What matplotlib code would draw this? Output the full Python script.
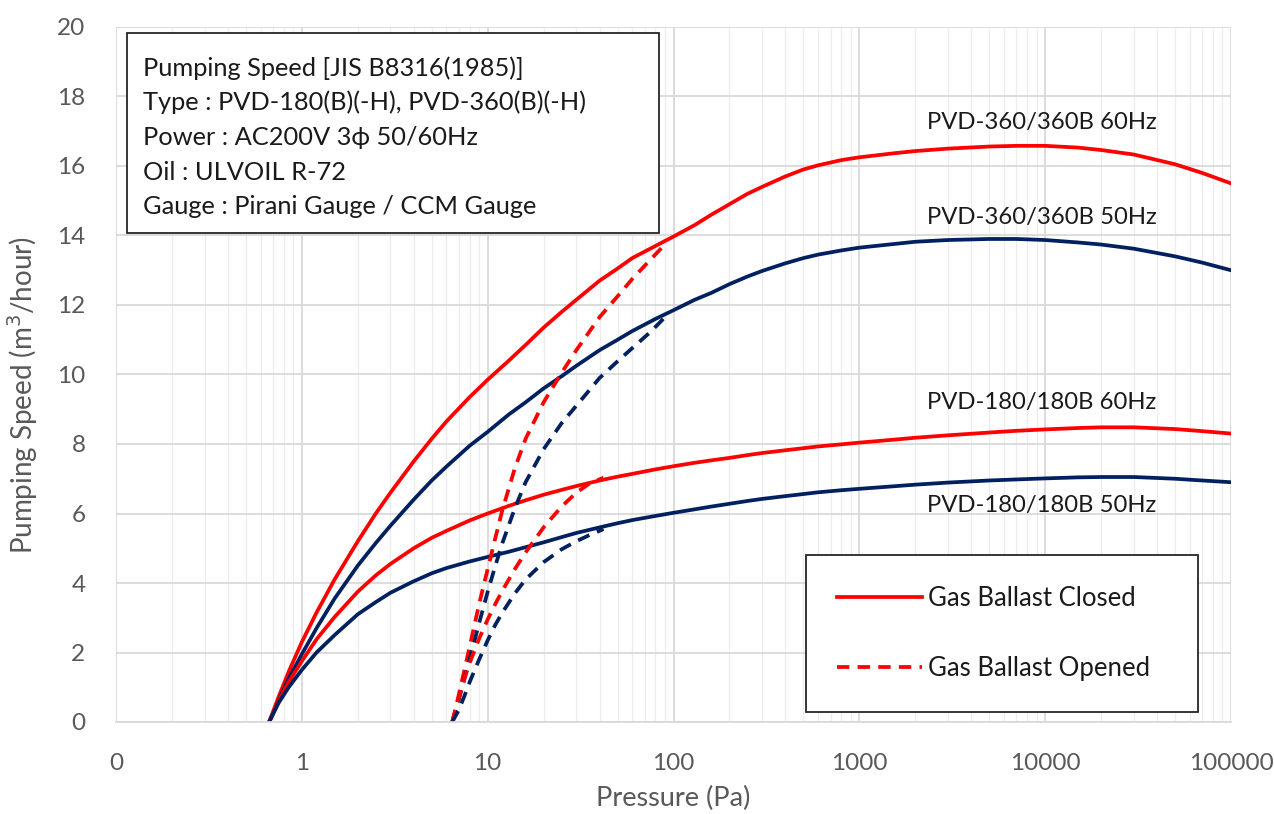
import matplotlib
matplotlib.use("Agg")
import matplotlib.pyplot as plt
from matplotlib.lines import Line2D
from matplotlib.patches import Rectangle
from matplotlib.ticker import FixedLocator, FixedFormatter, NullFormatter

plt.rcParams["font.family"] = ["Lato", "DejaVu Sans"]

RED = "#FF0000"
NAVY = "#002060"

# gas ballast closed (solid)
p_closed = [0.667, 0.75, 0.85, 1, 1.2, 1.5, 2, 2.5, 3, 4, 5, 6, 8, 10, 13, 16, 20,
            25, 30, 40, 50, 60, 80, 100, 130, 160, 200, 250, 300, 400, 500, 600,
            800, 1000, 1500, 2000, 3000, 5000, 7000, 10000, 15000, 20000, 30000,
            50000, 70000, 100000]
s360_60 = [0, 0.72, 1.45, 2.3, 3.15, 4.1, 5.2, 6.0, 6.6, 7.5, 8.15, 8.65, 9.35,
           9.85, 10.4, 10.85, 11.35, 11.8, 12.15, 12.7, 13.05, 13.35, 13.7, 13.97,
           14.3, 14.6, 14.9, 15.2, 15.4, 15.7, 15.9, 16.02, 16.17, 16.25, 16.36,
           16.43, 16.5, 16.56, 16.58, 16.58, 16.53, 16.46, 16.33, 16.05, 15.8, 15.5]
s360_50 = [0, 0.62, 1.25, 1.95, 2.7, 3.55, 4.5, 5.15, 5.65, 6.4, 6.95, 7.35, 7.95,
           8.35, 8.85, 9.2, 9.6, 9.95, 10.25, 10.7, 11.0, 11.25, 11.6, 11.85,
           12.15, 12.35, 12.6, 12.82, 12.98, 13.2, 13.35, 13.45, 13.57, 13.65,
           13.75, 13.82, 13.87, 13.9, 13.9, 13.87, 13.8, 13.74, 13.62, 13.4,
           13.22, 13.0]
s180_60 = [0, 0.6, 1.15, 1.75, 2.38, 3.02, 3.75, 4.22, 4.55, 5.0, 5.3, 5.5, 5.8,
           6.0, 6.22, 6.38, 6.54, 6.68, 6.79, 6.95, 7.06, 7.14, 7.27, 7.36, 7.46,
           7.53, 7.6, 7.68, 7.74, 7.82, 7.88, 7.93, 7.99, 8.04, 8.12, 8.18, 8.25,
           8.33, 8.38, 8.42, 8.46, 8.48, 8.48, 8.43, 8.37, 8.3]
s180_50 = [0, 0.55, 1.0, 1.5, 2.0, 2.5, 3.1, 3.45, 3.72, 4.05, 4.28, 4.43, 4.62,
           4.75, 4.9, 5.03, 5.17, 5.32, 5.44, 5.6, 5.72, 5.81, 5.93, 6.02, 6.12,
           6.2, 6.28, 6.36, 6.42, 6.5, 6.56, 6.61, 6.67, 6.71, 6.78, 6.83, 6.89,
           6.95, 6.98, 7.01, 7.04, 7.05, 7.05, 7.0, 6.95, 6.9]

# gas ballast opened (dashed)
p_open360 = [6.45, 7, 7.5, 8, 9, 10, 11, 12, 14, 16, 20, 25, 30, 40, 50, 60, 75, 92]
o360_60 = [0, 0.8, 1.5, 2.17, 3.4, 4.4, 5.3, 6.1, 7.3, 8.15, 9.2, 10.05, 10.7,
           11.65, 12.25, 12.75, 13.3, 13.8]
o360_50 = [0, 0.65, 1.25, 1.8, 2.85, 3.75, 4.5, 5.15, 6.15, 6.9, 7.85, 8.6, 9.1,
           9.9, 10.38, 10.76, 11.22, 11.7]
p_open180 = [6.45, 7, 7.5, 8, 9, 10, 11, 12, 14, 16, 20, 25, 30, 35, 42]
o180_60 = [0, 0.7, 1.25, 1.7, 2.4, 2.95, 3.4, 3.78, 4.4, 4.88, 5.6, 6.2, 6.6, 6.85, 7.03]
o180_50 = [0, 0.35, 0.75, 1.15, 1.8, 2.35, 2.8, 3.15, 3.7, 4.1, 4.6, 4.97, 5.2, 5.37, 5.55]

curve_labels = ["PVD-360/360B 60Hz", "PVD-360/360B 50Hz",
                "PVD-180/180B 60Hz", "PVD-180/180B 50Hz"]
label_y = [17.24, 14.53, 9.18, 6.22]

info_lines = [
    "Pumping Speed [JIS B8316(1985)]",
    "Type : PVD-180(B)(-H), PVD-360(B)(-H)",
    "Power : AC200V 3\u03d5 50/60Hz",
    "Oil : ULVOIL R-72",
    "Gauge : Pirani Gauge / CCM Gauge",
]

x_ticks = [0.1, 1, 10, 100, 1000, 10000, 100000]
x_ticklabels = ["0", "1", "10", "100", "1000", "10000", "100000"]

fig = plt.figure(figsize=(12.74, 8.14), dpi=100)
ax = fig.add_axes([116 / 1274, 92 / 814, 1115 / 1274, 695 / 814])
ax.set_xscale("log")
ax.set_xlim(0.1, 100000)
ax.set_ylim(0, 20)

minor = [m * 10.0 ** e for e in range(-1, 5) for m in range(2, 10)]
ax.xaxis.set_major_locator(FixedLocator(x_ticks))
ax.xaxis.set_major_formatter(FixedFormatter(x_ticklabels))
ax.xaxis.set_minor_locator(FixedLocator(minor))
ax.xaxis.set_minor_formatter(NullFormatter())
ax.set_yticks(range(0, 21, 2))

ax.grid(which="major", axis="both", color="#d9d9d9", lw=1.3)
ax.grid(which="minor", axis="x", color="#ededed", lw=0.9)
ax.set_axisbelow(True)
for side in ["top", "right", "left"]:
    ax.spines[side].set_visible(False)
ax.spines["bottom"].set_color("#d9d9d9")
ax.spines["bottom"].set_linewidth(1.3)
ax.tick_params(which="both", length=0)
ax.tick_params(axis="x", labelsize=17.5, labelcolor="#595959", pad=22)
ax.tick_params(axis="y", labelsize=17.5, labelcolor="#595959", pad=22)

lw = 2.7
for yy, col in [(s360_60, RED), (s360_50, NAVY), (s180_60, RED), (s180_50, NAVY)]:
    ax.plot(p_closed, yy, color=col, lw=lw, solid_joinstyle="round")
dash = (3.3, 2.2)
ax.plot(p_open360, o360_60, color=RED, lw=lw, dashes=dash)
ax.plot(p_open360, o360_50, color=NAVY, lw=lw, dashes=dash)
ax.plot(p_open180, o180_60, color=RED, lw=lw, dashes=dash)
ax.plot(p_open180, o180_50, color=NAVY, lw=lw, dashes=dash)

for txt, yy in zip(curve_labels, label_y):
    ax.text(2300, yy, txt, fontsize=17.2, color="#1a1a1a", ha="left", va="center")

ax.set_xlabel("Pressure (Pa)", fontsize=19.5, color="#595959")
ax.xaxis.set_label_coords(0.5, -64 / 695)
ax.set_ylabel("Pumping Speed (m$^3$/hour)", fontsize=20, color="#595959")
ax.yaxis.set_label_coords(-76 / 1115, 327 / 695)

# info box
ax.add_patch(Rectangle((11 / 1115, 489 / 695), 532 / 1115, 200 / 695,
                       transform=ax.transAxes, facecolor="white",
                       edgecolor="#262626", lw=1.3, zorder=5))
for i, line in enumerate(info_lines):
    ax.text(27 / 1115, (654 - 34.7 * i) / 695, line, transform=ax.transAxes,
            fontsize=18.3, color="#1a1a1a", ha="left", va="center", zorder=6)

handles = [Line2D([], [], color=RED, lw=lw),
           Line2D([], [], color=RED, lw=lw, dashes=dash)]
leg = ax.legend(handles, ["Gas Ballast Closed", "Gas Ballast Opened"],
                loc="upper left",
                bbox_to_anchor=(690 / 1115, 160 / 695, 392 / 1115, 0.01),
                mode="expand", borderaxespad=0, fontsize=18.5, frameon=True,
                fancybox=False, edgecolor="#262626", framealpha=1,
                borderpad=1.2, handlelength=3.3, handletextpad=0.25,
                labelspacing=1.75)
leg.get_frame().set_linewidth(1.3)
for t in leg.get_texts():
    t.set_color("#1a1a1a")

fig.savefig("out.png", dpi=100)
